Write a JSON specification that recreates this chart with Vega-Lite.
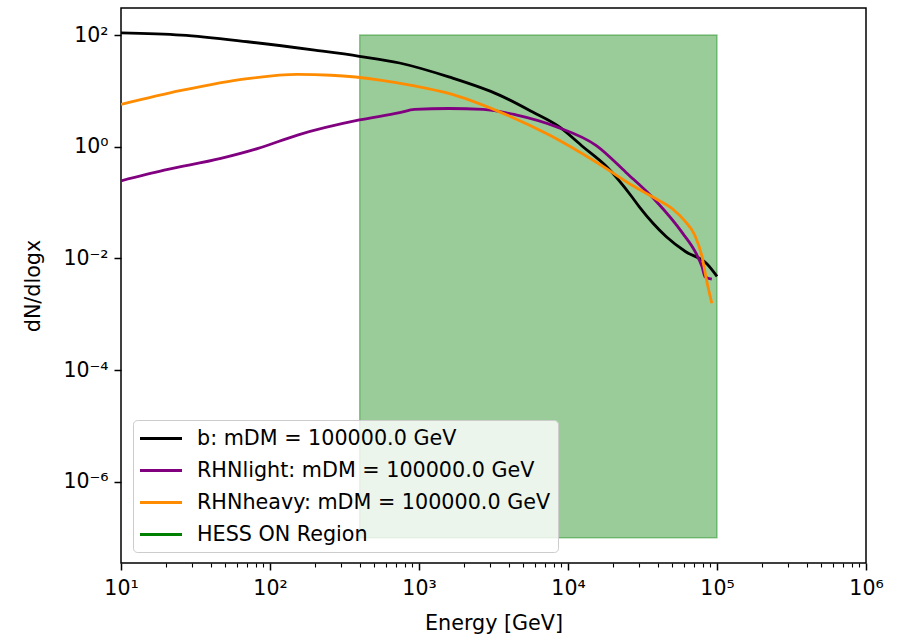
{
  "$schema": "https://vega.github.io/schema/vega-lite/v6.json",
  "width": 745,
  "height": 555,
  "autosize": {"type": "none"},
  "padding": {"left": 121, "top": 8, "right": 32, "bottom": 71},
  "background": "white",
  "config": {
    "font": "DejaVu Sans",
    "view": {"stroke": "black", "strokeWidth": 1.5},
    "axis": {
      "domain": false,
      "grid": false,
      "labelFont": "DejaVu Sans",
      "labelFontSize": 20.5,
      "labelColor": "#000000",
      "tickColor": "#000000",
      "tickWidth": 1.5,
      "tickSize": 7,
      "titleFont": "DejaVu Sans",
      "titleFontSize": 20.7,
      "titleFontWeight": "normal",
      "titleColor": "#000000"
    }
  },
  "resolve": {"axis": {"x": "independent"}},
  "datasets": {
    "curves": [
      {"series": "b: mDM = 100000.0 GeV", "E": 10, "y": 109.6},
      {"series": "b: mDM = 100000.0 GeV", "E": 25.4, "y": 100},
      {"series": "b: mDM = 100000.0 GeV", "E": 70.6, "y": 75.9},
      {"series": "b: mDM = 100000.0 GeV", "E": 199.5, "y": 53.7},
      {"series": "b: mDM = 100000.0 GeV", "E": 398, "y": 41.7},
      {"series": "b: mDM = 100000.0 GeV", "E": 741, "y": 31.6},
      {"series": "b: mDM = 100000.0 GeV", "E": 1585, "y": 17.8},
      {"series": "b: mDM = 100000.0 GeV", "E": 3467, "y": 8.41},
      {"series": "b: mDM = 100000.0 GeV", "E": 5754, "y": 4.22},
      {"series": "b: mDM = 100000.0 GeV", "E": 8710, "y": 2.29},
      {"series": "b: mDM = 100000.0 GeV", "E": 12590, "y": 1.0},
      {"series": "b: mDM = 100000.0 GeV", "E": 18200, "y": 0.437},
      {"series": "b: mDM = 100000.0 GeV", "E": 26900, "y": 0.126},
      {"series": "b: mDM = 100000.0 GeV", "E": 30200, "y": 0.0832},
      {"series": "b: mDM = 100000.0 GeV", "E": 37200, "y": 0.0427},
      {"series": "b: mDM = 100000.0 GeV", "E": 45700, "y": 0.0245},
      {"series": "b: mDM = 100000.0 GeV", "E": 61700, "y": 0.0132},
      {"series": "b: mDM = 100000.0 GeV", "E": 85100, "y": 0.00813},
      {"series": "b: mDM = 100000.0 GeV", "E": 100000, "y": 0.00479},

      {"series": "RHNlight: mDM = 100000.0 GeV", "E": 10, "y": 0.245},
      {"series": "RHNlight: mDM = 100000.0 GeV", "E": 19.5, "y": 0.38},
      {"series": "RHNlight: mDM = 100000.0 GeV", "E": 46.8, "y": 0.617},
      {"series": "RHNlight: mDM = 100000.0 GeV", "E": 83.2, "y": 0.933},
      {"series": "RHNlight: mDM = 100000.0 GeV", "E": 153, "y": 1.62},
      {"series": "RHNlight: mDM = 100000.0 GeV", "E": 398, "y": 3.02},
      {"series": "RHNlight: mDM = 100000.0 GeV", "E": 741, "y": 4.07},
      {"series": "RHNlight: mDM = 100000.0 GeV", "E": 933, "y": 4.68},
      {"series": "RHNlight: mDM = 100000.0 GeV", "E": 1585, "y": 4.84},
      {"series": "RHNlight: mDM = 100000.0 GeV", "E": 2690, "y": 4.68},
      {"series": "RHNlight: mDM = 100000.0 GeV", "E": 4470, "y": 3.72},
      {"series": "RHNlight: mDM = 100000.0 GeV", "E": 8320, "y": 2.29},
      {"series": "RHNlight: mDM = 100000.0 GeV", "E": 15500, "y": 1.05},
      {"series": "RHNlight: mDM = 100000.0 GeV", "E": 24500, "y": 0.347},
      {"series": "RHNlight: mDM = 100000.0 GeV", "E": 38900, "y": 0.107},
      {"series": "RHNlight: mDM = 100000.0 GeV", "E": 58900, "y": 0.0282},
      {"series": "RHNlight: mDM = 100000.0 GeV", "E": 72400, "y": 0.0123},
      {"series": "RHNlight: mDM = 100000.0 GeV", "E": 79400, "y": 0.00708},
      {"series": "RHNlight: mDM = 100000.0 GeV", "E": 83200, "y": 0.00468},
      {"series": "RHNlight: mDM = 100000.0 GeV", "E": 92300, "y": 0.00427},

      {"series": "RHNheavy: mDM = 100000.0 GeV", "E": 10, "y": 5.73},
      {"series": "RHNheavy: mDM = 100000.0 GeV", "E": 25.4, "y": 10.2},
      {"series": "RHNheavy: mDM = 100000.0 GeV", "E": 70.6, "y": 16.6},
      {"series": "RHNheavy: mDM = 100000.0 GeV", "E": 153, "y": 19.7},
      {"series": "RHNheavy: mDM = 100000.0 GeV", "E": 257, "y": 19.05},
      {"series": "RHNheavy: mDM = 100000.0 GeV", "E": 562, "y": 15.5},
      {"series": "RHNheavy: mDM = 100000.0 GeV", "E": 933, "y": 12.3},
      {"series": "RHNheavy: mDM = 100000.0 GeV", "E": 1585, "y": 9.0},
      {"series": "RHNheavy: mDM = 100000.0 GeV", "E": 3467, "y": 4.22},
      {"series": "RHNheavy: mDM = 100000.0 GeV", "E": 7500, "y": 1.62},
      {"series": "RHNheavy: mDM = 100000.0 GeV", "E": 16200, "y": 0.49},
      {"series": "RHNheavy: mDM = 100000.0 GeV", "E": 26900, "y": 0.204},
      {"series": "RHNheavy: mDM = 100000.0 GeV", "E": 38900, "y": 0.1175},
      {"series": "RHNheavy: mDM = 100000.0 GeV", "E": 50100, "y": 0.0776},
      {"series": "RHNheavy: mDM = 100000.0 GeV", "E": 60300, "y": 0.0479},
      {"series": "RHNheavy: mDM = 100000.0 GeV", "E": 70800, "y": 0.0263},
      {"series": "RHNheavy: mDM = 100000.0 GeV", "E": 79400, "y": 0.0107},
      {"series": "RHNheavy: mDM = 100000.0 GeV", "E": 85100, "y": 0.00407},
      {"series": "RHNheavy: mDM = 100000.0 GeV", "E": 92300, "y": 0.00158}
    ],
    "region": [
      {"series": "HESS ON Region", "E": 400, "E2": 100000, "y": 1e-7, "y2": 100}
    ]
  },
  "layer": [
    {
      "data": {"name": "region"},
      "mark": {"type": "rect", "fillOpacity": 0.4, "stroke": "#008000", "strokeOpacity": 0.4, "strokeWidth": 1.4},
      "encoding": {
        "x": {
          "field": "E", "type": "quantitative",
          "scale": {"type": "log", "domain": [10, 1000000], "nice": false},
          "axis": {
            "orient": "bottom",
            "title": null,
            "labels": false,
            "tickSize": 4,
            "tickWidth": 1.1,
            "values": [20,30,40,50,60,70,80,90,200,300,400,500,600,700,800,900,2000,3000,4000,5000,6000,7000,8000,9000,20000,30000,40000,50000,60000,70000,80000,90000,200000,300000,400000,500000,600000,700000,800000,900000]
          }
        },
        "x2": {"field": "E2"},
        "y": {"field": "y", "type": "quantitative"},
        "y2": {"field": "y2"},
        "color": {"field": "series", "type": "nominal"}
      }
    },
    {
      "data": {"name": "curves"},
      "mark": {"type": "line", "strokeWidth": 2.8, "clip": true, "interpolate": "monotone"},
      "encoding": {
        "x": {
          "field": "E", "type": "quantitative",
          "scale": {"type": "log", "domain": [10, 1000000], "nice": false},
          "axis": {
            "orient": "bottom",
            "title": "Energy [GeV]",
            "titlePadding": 15,
            "labelPadding": 8,
            "values": [10, 100, 1000, 10000, 100000, 1000000],
            "labelExpr": "'10' + substring('⁰¹²³⁴⁵⁶⁷⁸⁹', round(log(datum.value)/LN10), round(log(datum.value)/LN10)+1)",
            "labelOverlap": false,
            "labelFlush": false
          }
        },
        "y": {
          "field": "y", "type": "quantitative",
          "scale": {"type": "log", "domain": [3.53e-8, 305], "nice": false},
          "axis": {
            "title": "dN/dlogx",
            "titlePadding": 19,
            "labelPadding": 6,
            "values": [0.000001, 0.0001, 0.01, 1, 100],
            "labelExpr": "(datum.value < 1 ? '10⁻' : '10') + substring('⁰¹²³⁴⁵⁶⁷⁸⁹', abs(round(log(datum.value)/LN10)), abs(round(log(datum.value)/LN10))+1)",
            "labelOverlap": false,
            "labelFlush": false
          }
        },
        "color": {
          "field": "series", "type": "nominal",
          "scale": {
            "domain": ["b: mDM = 100000.0 GeV", "RHNlight: mDM = 100000.0 GeV", "RHNheavy: mDM = 100000.0 GeV", "HESS ON Region"],
            "range": ["#000000", "#800080", "#ff8c00", "#008000"]
          },
          "legend": {
            "title": null,
            "orient": "none",
            "legendX": 12,
            "legendY": 412,
            "labelFont": "DejaVu Sans",
            "labelFontSize": 20.7,
            "labelColor": "#000000",
            "labelLimit": 0,
            "labelOffset": 34,
            "fillColor": "rgba(255,255,255,0.8)",
            "strokeColor": "#cccccc",
            "cornerRadius": 4,
            "padding": 7,
            "rowPadding": 10,
            "symbolSize": 400,
            "symbolType": "M-1.15,0H3.05",
            "symbolStrokeWidth": 2.9
          }
        }
      }
    }
  ]
}
